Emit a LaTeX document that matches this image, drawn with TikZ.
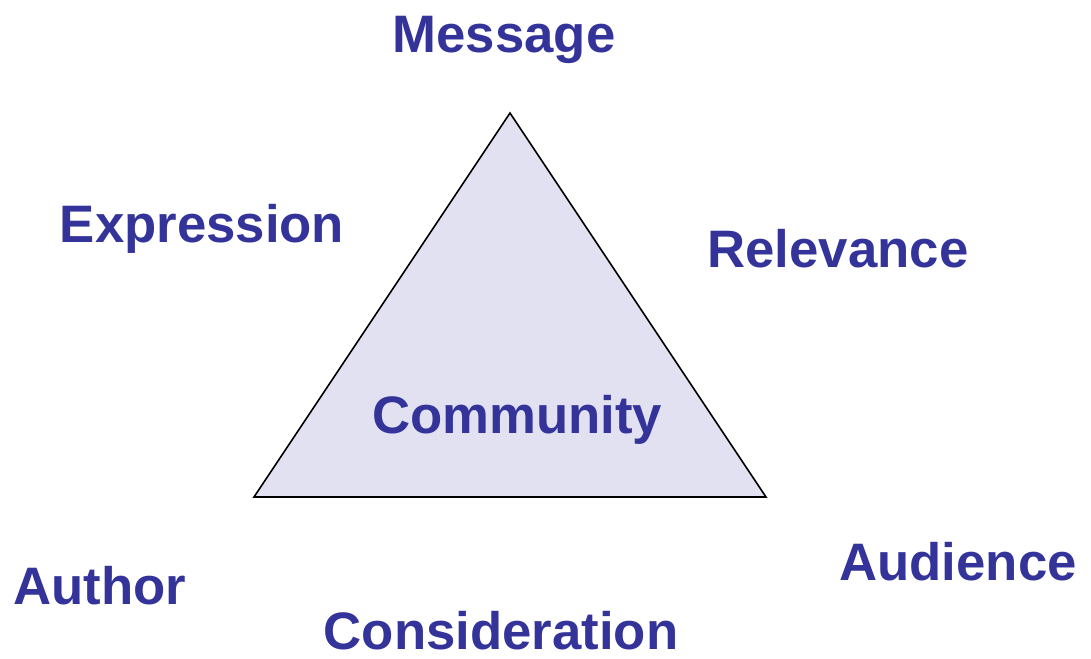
\documentclass[tikz,border=0pt]{standalone}
\usepackage{fontspec}
\setmainfont{Liberation Sans}
\definecolor{wordblue}{RGB}{51,51,153}
\definecolor{trifill}{RGB}{225,225,241}

\tikzset{
  word/.style={anchor=base, text=wordblue, font=\fontsize{15}{18}\selectfont\bfseries, inner sep=0pt}
}

\begin{document}
\begin{tikzpicture}[scale=1]
    \useasboundingbox (0,0) rectangle (10.91,6.58);
    \coordinate (T) at (5.10,5.45);
    \coordinate (L) at (2.54,1.61);
    \coordinate (R) at (7.66,1.61);

    \draw[fill=trifill, line width=0.45pt] (T)--(L)--(R)--cycle;

    \node[word] (message) at (5.04,6.05) {Message};
    \node[word] (expression) at (2.02,4.15) {Expression};
    \node[word] (relevance) at (8.38,3.90) {Relevance};
    \node[word] (community) at (5.17,2.24) {Community};
    \node[word] (author) at (1.00,0.54) {Author};
    \node[word] (audience) at (9.58,0.78) {Audience};
    \node[word] (consideration) at (5.01,0.08) {Consideration};
\end{tikzpicture}
\end{document}
